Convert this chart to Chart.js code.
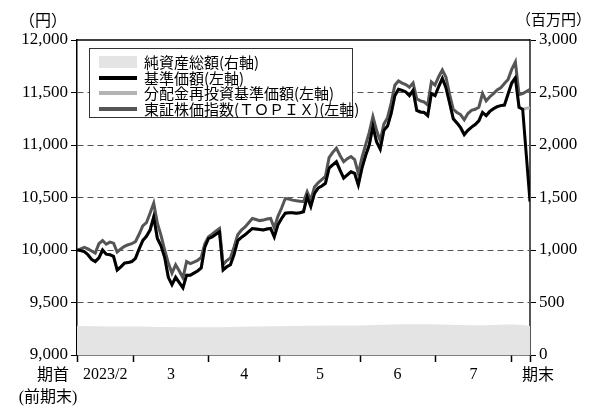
<!DOCTYPE html>
<html>
<head>
<meta charset="utf-8">
<script src="https://cdn.jsdelivr.net/npm/chart.js@4/dist/chart.umd.min.js"></script>
<style>
  html, body { margin: 0; padding: 0; background: #fff; }
  #wrap { position: relative; width: 595px; height: 406px; }
  canvas { position: absolute; left: 0; top: 0; }
  .unit { position: absolute; top: 7px; font: 16px 'Liberation Serif', 'Noto Sans CJK JP', serif; color: #000; }
  #legend {
    position: absolute; left: 89px; top: 48px; width: 264px; height: 70px;
    box-sizing: border-box; border: 1.5px solid #333; background: #fff;
    font: 15px 'Noto Sans CJK JP', sans-serif; color: #000;
  }
  #legend .row { position: absolute; left: 9px; height: 16px; display: flex; align-items: center; white-space: nowrap; }
  #legend .sw { width: 38px; margin-right: 7px; }
  #legend span.t { line-height: 16px; }
</style>
</head>
<body>
<div id="wrap">
  <canvas id="c" width="595" height="406"></canvas>
  <div class="unit" style="left:19px">（円）</div>
  <div class="unit" style="left:516px;font-size:15px;top:8px">（百万円）</div>
  <div id="legend"></div>
</div>
<script>
// trading-day index from the start of the period (期首) to its end (期末)
const lastDay = 124

// 基準価額 (left axis, yen), one value per trading day
const nav = [
  10000, 9995, 9985, 9955, 9910, 9890, 9925, 10000, 9960, 9955,
  9940, 9810, 9840, 9875, 9880, 9890, 9920, 10010, 10090, 10130,
  10190, 10315, 10110, 10040, 9930, 9740, 9670, 9740, 9690, 9640,
  9760, 9760, 9780, 9800, 9830, 10030, 10110, 10125, 10150, 10175,
  9810, 9840, 9860, 9960, 10090, 10120, 10145, 10175, 10205, 10200,
  10195, 10190, 10200, 10205, 10125, 10240, 10300, 10350, 10355, 10355,
  10350, 10355, 10365, 10510, 10415, 10540, 10590, 10610, 10635, 10780,
  10810, 10840, 10760, 10685, 10715, 10745, 10730, 10620, 10780, 10900,
  11000, 11180, 11030, 10960, 11140, 11180, 11300, 11470, 11530, 11520,
  11505, 11470, 11520, 11330, 11315, 11310, 11280, 11490, 11470, 11555,
  11635, 11545, 11400, 11250, 11210, 11165, 11100, 11140, 11170, 11195,
  11230, 11310, 11280, 11320, 11345, 11365, 11375, 11380, 11485, 11590,
  11640, 11360, 11340, 10900, 10460,
]

// 分配金再投資基準価額 (left axis, yen)
const navReinvested = [
  10000, 9995, 9985, 9955, 9910, 9890, 9925, 10000, 9960, 9955,
  9940, 9810, 9840, 9875, 9880, 9890, 9920, 10010, 10090, 10130,
  10190, 10315, 10110, 10040, 9930, 9740, 9670, 9740, 9690, 9640,
  9760, 9760, 9780, 9800, 9830, 10030, 10110, 10125, 10150, 10175,
  9810, 9840, 9860, 9960, 10090, 10120, 10145, 10175, 10205, 10200,
  10195, 10190, 10200, 10205, 10125, 10240, 10300, 10350, 10355, 10355,
  10350, 10355, 10365, 10510, 10415, 10540, 10590, 10610, 10635, 10780,
  10810, 10840, 10760, 10685, 10715, 10745, 10730, 10620, 10780, 10900,
  11000, 11180, 11030, 10960, 11140, 11180, 11300, 11470, 11530, 11520,
  11505, 11470, 11520, 11330, 11315, 11310, 11280, 11490, 11470, 11555,
  11635, 11545, 11400, 11250, 11210, 11165, 11100, 11140, 11170, 11195,
  11230, 11310, 11280, 11320, 11345, 11365, 11375, 11380, 11485, 11590,
  11640, 11360, 11340, 11350, 11355,
]

// 東証株価指数(TOPIX), rebased to the fund (left axis)
const topix = [
  10000, 10010, 10025, 10010, 9990, 9970, 10060, 10090, 10055, 10075,
  10065, 9980, 10010, 10035, 10050, 10060, 10080, 10150, 10230, 10260,
  10350, 10445, 10255, 10140, 10000, 9875, 9780, 9860, 9800, 9735,
  9890, 9870, 9885, 9900, 9930, 10060, 10125, 10150, 10180, 10205,
  9860, 9900, 9925, 10030, 10145, 10190, 10220, 10260, 10300, 10290,
  10280, 10285, 10295, 10300, 10210, 10320, 10400, 10490, 10485, 10475,
  10470, 10465, 10460, 10555, 10475, 10600, 10640, 10670, 10700, 10880,
  10930, 10970, 10900, 10840, 10870, 10890, 10860, 10730, 10880, 11000,
  11120, 11270, 11140, 11040, 11200, 11260, 11400, 11570, 11610, 11590,
  11575, 11550, 11590, 11440, 11420, 11410, 11380, 11600, 11570, 11650,
  11715, 11645, 11480, 11340, 11310, 11290, 11240, 11300, 11330, 11340,
  11360, 11490, 11420, 11460, 11490, 11525, 11545, 11585, 11625, 11720,
  11790, 11480, 11490, 11510, 11530,
]

// 純資産総額 (right axis, million yen)
const assetDays = [0, 8, 16, 24, 32, 40, 48, 56, 64, 72, 80, 88, 96, 104, 112, 120, 124]
const assets = [276, 272, 272, 266, 264, 265, 272, 274, 278, 280, 284, 292, 293, 286, 284, 290, 276]

// month boundaries (trading-day index) and month labels between them
const monthEdges = [0, 15.5, 36, 55.5, 77.5, 98, 119, lastDay]
const monthNames = ['2023/2', '3', '4', '5', '6', '7']

const serif = "'Liberation Serif', 'Noto Sans CJK JP', serif"

const legendItems = [
  { label: '純資産総額(右軸)', color: '#e4e4e4', area: true },
  { label: '基準価額(左軸)', color: '#000000' },
  { label: '分配金再投資基準価額(左軸)', color: '#b3b3b3' },
  { label: '東証株価指数(ＴＯＰＩＸ)(左軸)', color: '#555555' },
]

const asPoints = (vals) => vals.map((v, i) => ({ x: i, y: v }))

const monthMids = monthNames.map((_, i) => (monthEdges[i] + monthEdges[i + 1]) / 2)
const xTicks = [
  ...monthEdges.map((v) => ({ value: v, edge: true })),
  ...monthMids.map((v, i) => ({ value: v, label: monthNames[i] })),
].sort((a, b) => a.value - b.value)

const frame = {
  id: 'frame',
  afterDraw(chart) {
    const { ctx, chartArea: a, scales } = chart
    const x = scales.x
    ctx.save()
    ctx.strokeStyle = '#000'
    ctx.lineWidth = 1.5
    ctx.beginPath()
    ctx.moveTo(a.left, a.top)
    ctx.lineTo(a.right, a.top)
    ctx.stroke()
    ctx.fillStyle = '#000'
    ctx.font = '16px ' + serif
    ctx.textAlign = 'center'
    ctx.textBaseline = 'middle'
    const y = a.bottom + 21
    ctx.fillText('期首', x.getPixelForValue(0) - 24, y)
    ctx.fillText('(前期末)', x.getPixelForValue(0) - 29, y + 22)
    ctx.fillText('期末', x.getPixelForValue(lastDay) + 8, y)
    ctx.restore()
  },
}

const line = (label, data, color, order) => ({
  label, data, order,
  borderColor: color,
  borderWidth: 3,
  pointRadius: 0,
  tension: 0,
  fill: false,
  yAxisID: 'y',
})

new Chart(document.getElementById('c'), {
  type: 'line',
  data: {
    datasets: [
      line('基準価額(左軸)', asPoints(nav), '#000000', 1),
      line('分配金再投資基準価額(左軸)', asPoints(navReinvested), '#b3b3b3', 2),
      line('東証株価指数(TOPIX)(左軸)', asPoints(topix), '#555555', 3),
      {
        label: '純資産総額(右軸)',
        data: assetDays.map((d, i) => ({ x: d, y: assets[i] })),
        order: 4,
        yAxisID: 'y2',
        borderWidth: 0,
        borderColor: 'rgba(0,0,0,0)',
        backgroundColor: '#e4e4e4',
        fill: 'origin',
        pointRadius: 0,
        tension: 0.3,
      },
    ],
  },
  options: {
    responsive: false,
    animation: false,
    devicePixelRatio: 1,
    layout: { padding: { top: 40, left: 0, right: 0, bottom: 0 } },
    plugins: { legend: { display: false }, tooltip: { enabled: false } },
    scales: {
      x: {
        type: 'linear',
        min: 0,
        max: lastDay,
        afterBuildTicks: (s) => { s.ticks = xTicks.map((t) => ({ value: t.value })) },
        afterFit: (s) => { s.height = 51 },
        border: { color: '#000', width: 1.5 },
        grid: {
          drawOnChartArea: false,
          tickLength: 7,
          tickWidth: 1.5,
          tickColor: (c) => (xTicks[c.index] && xTicks[c.index].edge ? '#000' : 'rgba(0,0,0,0)'),
        },
        ticks: {
          autoSkip: false,
          maxRotation: 0,
          padding: 3,
          color: '#000',
          font: { family: serif, size: 16 },
          callback: (v, i) => xTicks[i].label || '',
        },
      },
      y: {
        position: 'left',
        min: 9000,
        max: 12000,
        afterFit: (s) => { s.width = 77 },
        border: { color: '#000', width: 1.5, dash: [6, 4] },
        grid: {
          color: (c) => (c.tick.value > 9000 && c.tick.value < 12000 ? '#555' : 'rgba(0,0,0,0)'),
          lineWidth: 1,
          tickLength: 6,
          tickColor: '#000',
          tickBorderDash: [],
        },
        ticks: {
          stepSize: 500,
          padding: 3,
          color: '#000',
          font: { family: serif, size: 17 },
          callback: (v) => v.toLocaleString('en-US'),
        },
      },
      y2: {
        position: 'right',
        min: 0,
        max: 3000,
        afterFit: (s) => { s.width = 65 },
        border: { color: '#555', width: 2 },
        grid: { drawOnChartArea: false, tickLength: 6, tickColor: '#000' },
        ticks: {
          stepSize: 500,
          padding: 3,
          color: '#000',
          font: { family: serif, size: 17 },
          callback: (v) => v.toLocaleString('en-US'),
        },
      },
    },
  },
  plugins: [frame],
})

// legend box drawn over the plot, like the original
const legend = document.getElementById('legend')
const rowTops = [5, 21, 36, 52]
legendItems.forEach((item, i) => {
  const row = document.createElement('div')
  row.className = 'row'
  row.style.top = rowTops[i] + 'px'
  const sw = document.createElement('div')
  sw.className = 'sw'
  sw.style.height = item.area ? '12px' : '3.5px'
  sw.style.background = item.color
  const t = document.createElement('span')
  t.className = 't'
  t.textContent = item.label
  row.append(sw, t)
  legend.appendChild(row)
})
</script>
</body>
</html>
